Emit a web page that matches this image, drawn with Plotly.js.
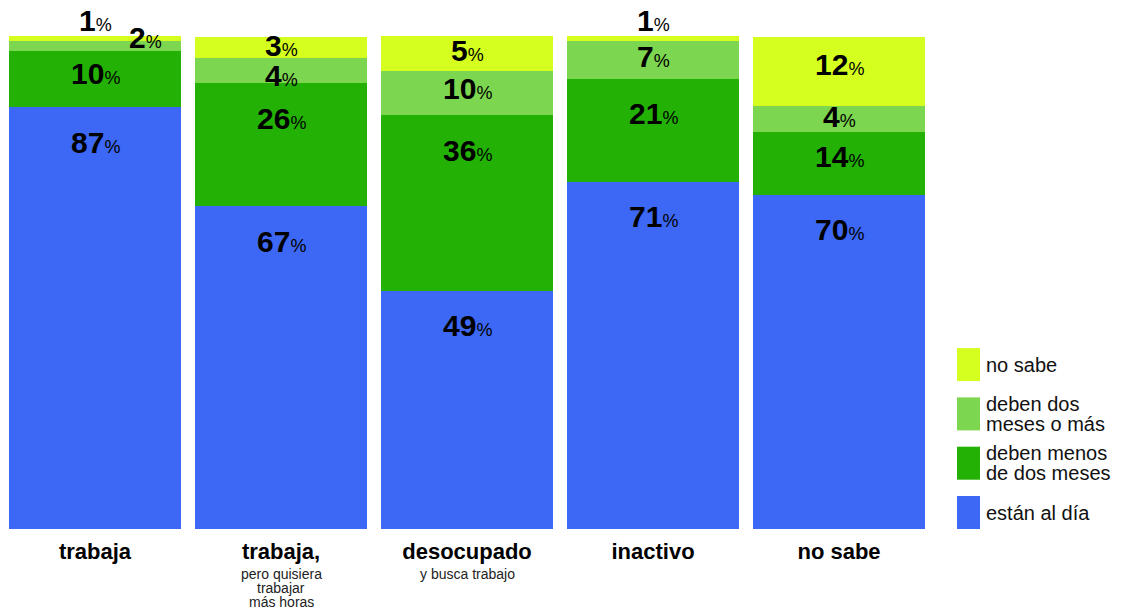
<!DOCTYPE html>
<html>
<head>
<meta charset="utf-8">
<script src="https://cdn.plot.ly/plotly-3.0.1.min.js"></script>
<style>html,body{margin:0;padding:0;background:#fff}#chart{width:1130px;height:612px}</style>
</head>
<body>
<div id="chart"></div>
<script>
// ---- data ----
const categories = ['trabaja', 'trabaja,', 'desocupado', 'inactivo', 'no sabe'];
const subtitles = [[], ['pero quisiera', 'trabajar', 'más horas'], ['y busca trabajo'], [], []];
const seriesNames = ['están al día', 'deben menos<br>de dos meses', 'deben dos<br>meses o más', 'no sabe'];
// segment heights as drawn in the picture (%)
const alDia = [85.5, 65.5, 48.3, 70.4, 67.8];
const menosDosMeses = [11.5, 24.9, 35.6, 20.9, 12.8];
const dosMesesOMas = [1.9, 5.1, 9.1, 7.6, 5.2];
const noSabe = [1.1, 4.3, 6.9, 1.1, 14.0];
// printed labels (%)
const alDiaLabels = [87, 67, 49, 71, 70];
const menosDosMesesLabels = [10, 26, 36, 21, 14];
const dosMesesOMasLabels = [2, 4, 10, 7, 4];
const noSabeLabels = [1, 3, 5, 1, 12];

// ---- styles ----
const series = [alDia, menosDosMeses, dosMesesOMas, noSabe];
const labels = [alDiaLabels, menosDosMesesLabels, dosMesesOMasLabels, noSabeLabels];
const colors = ['#3d68f5', '#22b104', '#7dd64f', '#d4ff1f'];
const FONT = 'Liberation Sans, Arial, Helvetica, sans-serif';

const plotTop = 36, plotBottom = 529, plotLeft = 2, plotRight = 932;
const pxPerUnit = (plotBottom - plotTop) / 100;

const traces = series.map((vals, i) => ({
  type: 'bar',
  x: categories,
  y: vals,
  name: seriesNames[i].replace('<br>', ' '),
  marker: {color: colors[i], line: {width: 0}},
  hoverinfo: 'skip',
  showlegend: false
}));

const annotations = [];
const shapes = [];

// value labels
categories.forEach((c, ci) => {
  let cum = 0;
  const items = [];
  series.forEach((vals, si) => {
    const v = vals[ci];
    cum += v;
    const segPx = v * pxPerUnit;
    const topPx = plotBottom - cum * pxPerUnit;
    const isTop = si === series.length - 1;
    let centerPx, xshift = 0, side = false;
    if (isTop && segPx < 10) {
      centerPx = topPx - 16;
    } else if (!isTop && segPx < 15) {
      centerPx = topPx - 4; xshift = 50; side = true;
    } else {
      centerPx = topPx + Math.min(35, segPx * 0.4);
    }
    items.push({si, cum, topPx, centerPx, xshift, side, lab: labels[si][ci]});
  });
  // avoid collisions: walk from top of stack downward
  let prev = -Infinity;
  for (let k = items.length - 1; k >= 0; k--) {
    const it = items[k];
    if (it.side) continue;
    if (it.centerPx < prev + 30) it.centerPx = prev + 30;
    prev = it.centerPx;
  }
  items.forEach(it => {
    annotations.push({
      x: c, y: it.cum, xref: 'x', yref: 'y',
      text: '<b>' + it.lab + '</b><span style="font-size:18px">%</span>',
      showarrow: false, yanchor: 'middle', xanchor: 'center',
      yshift: it.topPx - it.centerPx, xshift: it.xshift,
      font: {family: FONT, size: 30, color: '#000'}
    });
  });
  // subtitles under category
  subtitles[ci].forEach((line, li) => {
    annotations.push({
      x: c, y: 0, xref: 'x', yref: 'paper',
      text: line, showarrow: false, yanchor: 'middle', xanchor: 'center',
      yshift: -(45 + li * 14),
      font: {family: FONT, size: 14, color: '#222'}
    });
  });
});

// custom legend (top to bottom: reversed stacking order)
const plotH = plotBottom - plotTop, plotW = plotRight - plotLeft;
const toPX = px => (px - plotLeft) / plotW;
const toPY = py => (plotBottom - py) / plotH;
series.forEach((vals, i) => {
  const bottom = plotBottom - i * 49.3;
  const top = bottom - 33;
  shapes.push({
    type: 'rect', xref: 'paper', yref: 'paper',
    x0: toPX(957), x1: toPX(980), y0: toPY(bottom), y1: toPY(top),
    fillcolor: colors[i], line: {width: 0}
  });
  const lines = seriesNames[i].split('<br>');
  const center = (top + bottom) / 2;
  lines.forEach((ln, li) => {
    const py = center + (li - (lines.length - 1) / 2) * 19.5;
    annotations.push({
      x: toPX(984), y: toPY(py), xref: 'paper', yref: 'paper',
      text: ln, showarrow: false, xanchor: 'left', yanchor: 'middle',
      font: {family: FONT, size: 20, color: '#111'}
    });
  });
});

const layout = {
  width: 1130, height: 612,
  margin: {l: plotLeft, r: 1130 - plotRight, t: plotTop, b: 612 - plotBottom, pad: 0},
  barmode: 'stack',
  bargap: 0.075,
  paper_bgcolor: '#fff', plot_bgcolor: '#fff',
  font: {family: FONT},
  xaxis: {
    type: 'category',
    tickvals: categories,
    ticktext: categories.map(c => '<b>' + c + '</b>'),
    tickfont: {family: FONT, size: 22, color: '#000'},
    showgrid: false, zeroline: false, showline: false, ticks: '',
    ticklabelstandoff: 7,
    fixedrange: true
  },
  yaxis: {
    range: [0, 100], visible: false, showgrid: false, zeroline: false, fixedrange: true
  },
  annotations: annotations,
  shapes: shapes,
  showlegend: false
};

Plotly.newPlot('chart', traces, layout, {displayModeBar: false, staticPlot: true});
</script>
</body>
</html>
